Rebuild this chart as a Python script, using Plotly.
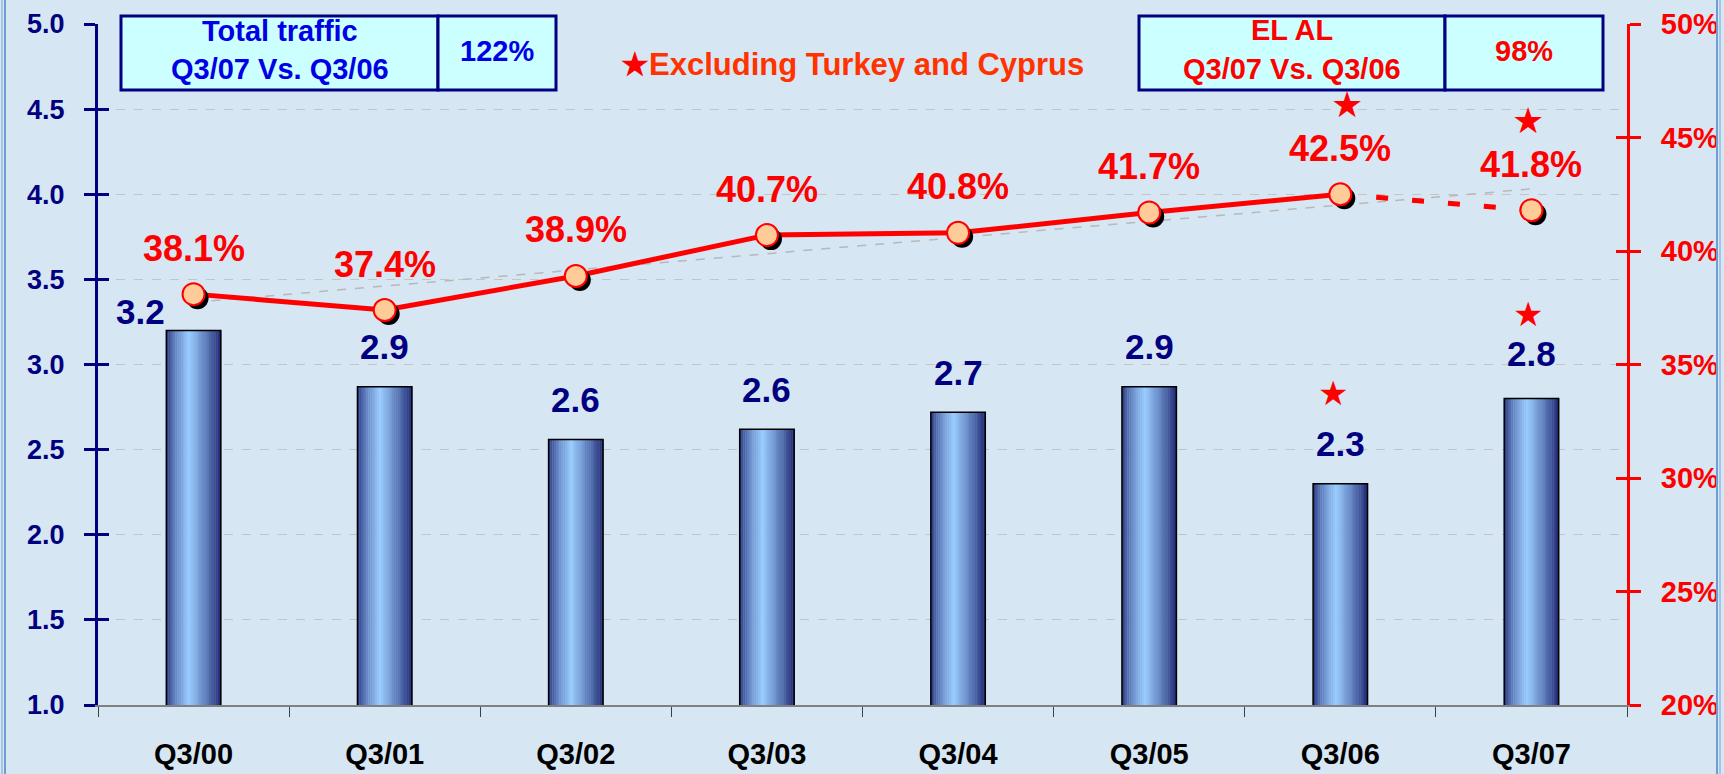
import numpy as np
import plotly.graph_objects as go

# 数据
quarters = ['Q3/00', 'Q3/01', 'Q3/02', 'Q3/03', 'Q3/04', 'Q3/05', 'Q3/06', 'Q3/07']
traffic = [3.2, 2.87, 2.56, 2.62, 2.72, 2.87, 2.30, 2.80]
traffic_labels = ['3.2', '2.9', '2.6', '2.6', '2.7', '2.9', '2.3', '2.8']
share = [38.1, 37.4, 38.9, 40.7, 40.8, 41.7, 42.5, 41.8]
share_labels = ['38.1%', '37.4%', '38.9%', '40.7%', '40.8%', '41.7%', '42.5%', '41.8%']
starred = ['Q3/06', 'Q3/07']

# 画布尺寸 (像素)
W, H = 1724, 774
L, R, T, B = 98, 1627, 24, 705

def px(x):
    return (x - L) / (R - L)

def py(y):
    return (B - y) / (B - T)

FONT = 'Liberation Sans, Arial, sans-serif'
NAVY = '#000080'
RED = '#FF0000'
BG = '#D6E6F2'

fig = go.Figure()

# 柱子：用多个细条模拟圆柱渐变
bw = 0.285
n = 30
dark = np.array([28, 36, 112])
light = np.array([153, 204, 255])
for k in range(n):
    t = (k + 0.5) / n
    if t < 0.42:
        f = (t / 0.42) ** 0.6
    else:
        f = ((1 - t) / 0.58) ** 0.85
    c = dark + (light - dark) * f
    fig.add_trace(go.Bar(
        x=quarters, y=traffic, width=bw / n * 1.2, offset=-bw / 2 + k * bw / n,
        marker=dict(color='rgb(%d,%d,%d)' % tuple(c.astype(int)), line=dict(width=0)),
        hoverinfo='skip', showlegend=False))
fig.add_trace(go.Bar(
    x=quarters, y=traffic, width=bw, offset=-bw / 2,
    marker=dict(color='rgba(0,0,0,0)', line=dict(color='black', width=1.5)),
    showlegend=False))

# 趋势线
slope, icpt = np.polyfit(np.arange(len(share)), share, 1)
fig.add_trace(go.Scatter(
    x=[quarters[0], quarters[-1]], y=[icpt, icpt + slope * (len(share) - 1)],
    yaxis='y2', mode='lines', line=dict(color='#B8B8B8', width=1.5, dash='dash'),
    hoverinfo='skip', showlegend=False))

# 折线
fig.add_trace(go.Scatter(
    x=quarters[:7], y=share[:7], yaxis='y2', mode='lines',
    line=dict(color=RED, width=5), showlegend=False))
fig.add_trace(go.Scatter(
    x=quarters[6:], y=share[6:], yaxis='y2', mode='lines',
    line=dict(color=RED, width=5, dash='12px,24px'), showlegend=False))

# 标记阴影
fig.add_trace(go.Scatter(
    x=quarters, y=share, xaxis='x3', yaxis='y3', mode='markers',
    marker=dict(size=22, color='black'), hoverinfo='skip', showlegend=False))
# 标记
fig.add_trace(go.Scatter(
    x=quarters, y=share, xaxis='x4', yaxis='y4', mode='markers',
    marker=dict(size=22, color='#FFCC99', line=dict(color=RED, width=2)),
    showlegend=False))

# 十字刻度的内侧部分
fig.add_trace(go.Scatter(x=quarters, y=traffic, yaxis='y5', mode='markers',
                         marker=dict(opacity=0), hoverinfo='skip', showlegend=False))
fig.add_trace(go.Scatter(x=quarters, y=share, yaxis='y6', mode='markers',
                         marker=dict(opacity=0), hoverinfo='skip', showlegend=False))

dx = 4 * len(quarters) / (R - L)
dy = 4 * 30 / (B - T)

ann = []
# 柱子数值
label_shift = {'Q3/00': (-53, 19), 'Q3/07': (0, 45)}
for q, v, lab in zip(quarters, traffic, traffic_labels):
    xs, ys = label_shift.get(q, (0, 40))
    ann.append(dict(x=q, y=v, xref='x', yref='y', text=lab, showarrow=False,
                    xshift=xs, yshift=ys, xanchor='center', yanchor='middle',
                    font=dict(family=FONT, size=35, color=NAVY, weight='bold')))
# 百分比标签
for q, v, lab in zip(quarters, share, share_labels):
    ann.append(dict(x=q, y=v, xref='x', yref='y2', text=lab, showarrow=False,
                    yshift=46, xanchor='center', yanchor='middle',
                    font=dict(family=FONT, size=36, color=RED, weight='bold')))
# 星号
for q in starred:
    i = quarters.index(q)
    ann.append(dict(x=q, y=share[i], xref='x', yref='y2', text='★', showarrow=False,
                    xshift=7 if q == 'Q3/06' else -3, yshift=90,
                    xanchor='center', yanchor='middle',
                    font=dict(family='DejaVu Sans', size=36, color=RED)))
    ann.append(dict(x=q, y=traffic[i], xref='x', yref='y', text='★', showarrow=False,
                    xshift=-7 if q == 'Q3/06' else -3, yshift=91 if q == 'Q3/06' else 85,
                    xanchor='center', yanchor='middle',
                    font=dict(family='DejaVu Sans', size=34, color=RED)))

# 方框文字
def box_text(text, x, y, color, size):
    ann.append(dict(x=px(x), y=py(y), xref='paper', yref='paper', text=text,
                    xanchor='center', yanchor='middle', showarrow=False,
                    font=dict(family=FONT, size=size, color=color, weight='bold')))

box_text('Total traffic', 280, 31, '#0000E6', 29)
box_text('Q3/07 Vs. Q3/06', 280, 69, '#0000E6', 29)
box_text('122%', 497, 51, '#0000E6', 29)
box_text('EL AL', 1292, 30, RED, 29)
box_text('Q3/07 Vs. Q3/06', 1292, 69, RED, 29)
box_text('98%', 1524, 51, RED, 29)

ann.append(dict(x=px(619), y=py(64), xref='paper', yref='paper', xanchor='left',
                yanchor='middle',
                text='<span style="color:#FF0000">★</span>Excluding Turkey and Cyprus',
                showarrow=False, font=dict(family=FONT, size=31, color='#FF3300', weight='bold')))

shapes = []
for x0, x1 in [(121, 438), (438, 556), (1139, 1445), (1445, 1603)]:
    shapes.append(dict(type='rect', xref='paper', yref='paper', x0=px(x0), x1=px(x1),
                       y0=py(90), y1=py(16), fillcolor='#CCFFFF',
                       line=dict(color=NAVY, width=3), layer='above'))
for xb, col in [(2, '#A4C4E8'), (5, '#6F9DD3'), (1717, '#6F9DD3'), (1720, '#A4C4E8')]:
    shapes.append(dict(type='line', xref='paper', yref='paper', x0=px(xb), x1=px(xb),
                       y0=py(0), y1=py(H), line=dict(color=col, width=2)))

tickfont_left = dict(family=FONT, size=27, color=NAVY, weight='bold')
tickfont_right = dict(family=FONT, size=29, color=RED, weight='bold')

fig.update_layout(
    width=W, height=H, autosize=False,
    margin=dict(l=L, r=W - R, t=T, b=H - B, pad=0),
    paper_bgcolor=BG, plot_bgcolor=BG,
    barmode='overlay', showlegend=False,
    xaxis=dict(type='category', range=[-0.5, 7.5], showline=True, linecolor='#808080',
               linewidth=2, ticks='outside', tickson='boundaries', ticklen=10,
               tickcolor='#404040', tickwidth=1, showgrid=False, ticklabelstandoff=22,
               automargin=False,
               tickfont=dict(family=FONT, size=29, color='black', weight='bold')),
    yaxis=dict(range=[1, 5], dtick=0.5, tickformat='.1f', showline=True, linecolor=NAVY,
               linewidth=3, ticks='outside', ticklen=11, tickwidth=3, tickcolor=NAVY,
               showgrid=True, gridcolor='#C4C4C4', griddash='dash', gridwidth=1,
               zeroline=False, tickfont=tickfont_left, ticklabelstandoff=14,
               automargin=False),
    yaxis2=dict(range=[20, 50], dtick=5, ticksuffix='%', overlaying='y', side='right',
                anchor='x', showline=True, linecolor=RED, linewidth=3, ticks='outside',
                ticklen=11, tickwidth=3, tickcolor=RED, showgrid=False, zeroline=False,
                tickfont=tickfont_right, ticklabelstandoff=14, automargin=False),
    xaxis3=dict(type='category', range=[-0.5 - dx, 7.5 - dx], overlaying='x',
                anchor='y3', visible=False, automargin=False),
    yaxis3=dict(range=[20 + dy, 50 + dy], overlaying='y', anchor='x3', visible=False,
                automargin=False),
    xaxis4=dict(type='category', range=[-0.5, 7.5], overlaying='x', anchor='y4',
                visible=False, automargin=False),
    yaxis4=dict(range=[20, 50], overlaying='y', anchor='x4', visible=False,
                automargin=False),
    yaxis5=dict(range=[1, 5], dtick=0.5, overlaying='y', anchor='x', side='left',
                showline=False, ticks='inside', ticklen=11, tickwidth=3, tickcolor=NAVY,
                showticklabels=False, showgrid=False, zeroline=False, automargin=False),
    yaxis6=dict(range=[20, 50], dtick=5, overlaying='y', anchor='x', side='right',
                showline=False, ticks='inside', ticklen=11, tickwidth=3, tickcolor=RED,
                showticklabels=False, showgrid=False, zeroline=False, automargin=False),
    annotations=ann, shapes=shapes,
)

# 去掉页面默认边距，隐藏工具栏
fig.write_html('out.html', config={'displayModeBar': False},
               post_script="document.body.style.margin='0';")
